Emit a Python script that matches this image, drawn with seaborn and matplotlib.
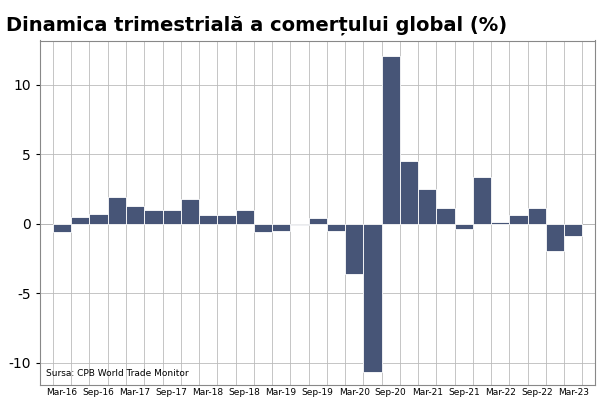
import matplotlib
matplotlib.use("Agg")
import matplotlib.pyplot as plt
import seaborn as sns
import pandas as pd

quarters = ["Mar-16","Jun-16","Sep-16","Dec-16","Mar-17","Jun-17","Sep-17","Dec-17",
            "Mar-18","Jun-18","Sep-18","Dec-18","Mar-19","Jun-19","Sep-19","Dec-19",
            "Mar-20","Jun-20","Sep-20","Dec-20","Mar-21","Jun-21","Sep-21","Dec-21",
            "Mar-22","Jun-22","Sep-22","Dec-22","Mar-23"]
values = [-0.6,0.5,0.7,1.9,1.3,1.0,1.0,1.8,0.6,0.6,1.0,-0.6,-0.5,-0.1,0.4,-0.5,
          -3.6,-10.7,12.1,4.5,2.5,1.1,-0.4,3.4,0.1,0.6,1.1,-2.0,-0.9]
yticks = [-10,-5,0,5,10]

df = pd.DataFrame({"q": quarters, "v": values})
fig = plt.figure(figsize=(6,4.05), dpi=100)
ax = fig.add_axes([0.067,0.05,0.925,0.85])
sns.barplot(data=df, x="q", y="v", color="#475577", width=1.0, edgecolor="white",
            linewidth=0.6, ax=ax, zorder=3, saturation=1)
ax.set_xlim(-1.2, len(quarters)+0.2)
ax.set_ylim(-11.6, 13.2)
ax.set_yticks(yticks)
ax.set_yticklabels([str(t) for t in yticks], fontsize=10)
ax.set_xticks(range(0,len(quarters),2))
ax.set_xticklabels(quarters[::2], fontsize=6.5)
ax.set_xticks([i+0.5 for i in range(-1,len(quarters))], minor=True)
ax.grid(True, which="minor", axis="x", color="#bbbbbb", lw=0.6, zorder=0)
ax.grid(True, which="major", axis="y", color="#bbbbbb", lw=0.6, zorder=0)
ax.tick_params(axis="x", which="both", length=0, pad=2)
ax.tick_params(axis="y", length=3)
ax.set_xlabel(""); ax.set_ylabel("")
for s in ax.spines.values():
    s.set_color("#888888"); s.set_linewidth(0.8)
ax.axhline(0, color="#999999", lw=0.6, zorder=1)
ax.text(-0.9, -11.0, "Sursa: CPB World Trade Monitor", fontsize=6.5)
fig.text(0.01, 0.925, "Dinamica trimestrială a comerțului global (%)", fontsize=14, fontweight="bold")
fig.savefig("out.png", dpi=100)
